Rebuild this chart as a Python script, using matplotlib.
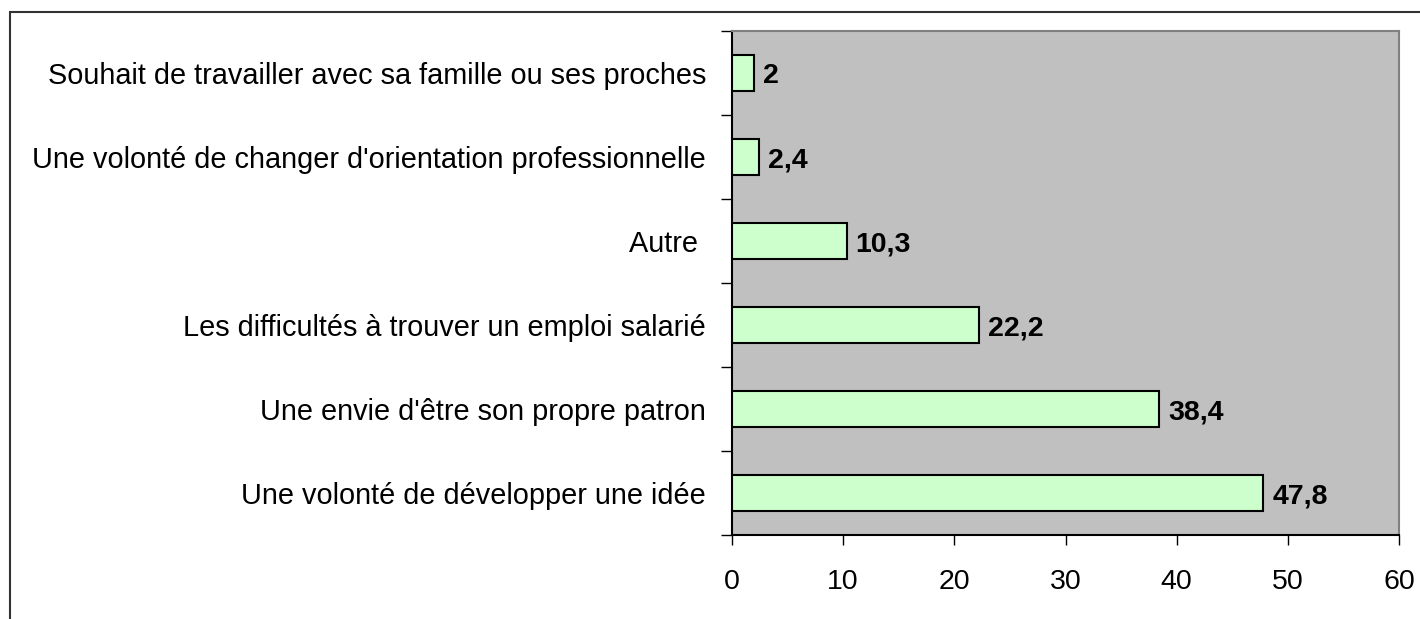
import matplotlib.pyplot as plt
from matplotlib.patches import Rectangle
from matplotlib.ticker import FixedLocator

plt.rcParams['font.family'] = ['Liberation Sans', 'DejaVu Sans']

# motivations (bottom to top)
labels = ["Une volonté de développer une idée",
          "Une envie d'être son propre patron",
          "Les difficultés à trouver un emploi salarié",
          "Autre ",
          "Une volonté de changer d'orientation professionnelle",
          "Souhait de travailler avec sa famille ou ses proches"]
values = [47.8, 38.4, 22.2, 10.3, 2.4, 2]
value_text = ["47,8", "38,4", "22,2", "10,3", "2,4", "2"]

W, H = 1420, 619
fig = plt.figure(figsize=(W / 100, H / 100), dpi=100)
ax = fig.add_axes([732 / W, 1 - 535 / H, (1399 - 732) / W, (535 - 31) / H])
ax.set_facecolor('#C0C0C0')

pos = list(range(len(values)))
ax.barh(pos, values, height=0.42, color='#CCFFCC', edgecolor='black', linewidth=1.5, zorder=3)
for p, v, t in zip(pos, values, value_text):
    ax.annotate(t, (v, p), xytext=(9, -3), textcoords='offset pixels',
                va='center', ha='left', fontsize=20.5, fontweight='bold')

ax.set_xlim(0, 60)
ax.set_ylim(-0.5, len(values) - 0.5)
ax.set_xticks(range(0, 61, 10))
ax.tick_params(axis='x', labelsize=20.5, length=7.2, width=1, pad=17, direction='out')
ax.set_yticks(pos)
ax.set_yticklabels(labels, fontsize=20.8)
ax.tick_params(axis='y', length=0, pad=18.6)
ax.yaxis.set_minor_locator(FixedLocator([i - 0.5 for i in range(len(values) + 1)]))
ax.tick_params(axis='y', which='minor', length=8, width=1, direction='out')

ax.spines['left'].set_color('black')
ax.spines['bottom'].set_color('black')
ax.spines['top'].set_color('#808080')
ax.spines['right'].set_color('#808080')
for s in ax.spines.values():
    s.set_linewidth(1.5)

# outer chart frame (clipped on right and bottom)
fig.patches.append(Rectangle((10 / W, -0.1), 1.2, 1 - 12 / H + 0.1, transform=fig.transFigure,
                             fill=False, edgecolor='#333333', linewidth=1.5))

fig.savefig('out.png', dpi=100)
